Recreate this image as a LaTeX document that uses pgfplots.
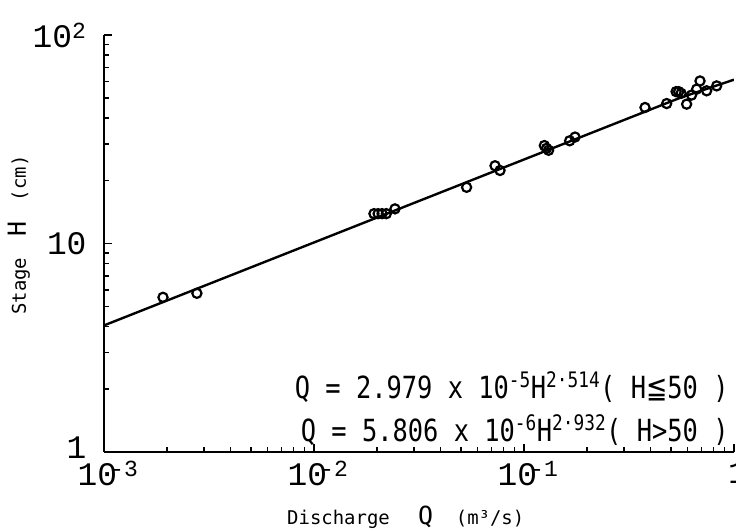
\documentclass[border=0pt]{standalone}
\usepackage{pgfplots}
\pgfplotsset{compat=1.18}
\usepackage{fontspec}
\setmainfont{DejaVu Sans Mono}
\newfontfamily\tickfont{Liberation Mono}
\newfontfamily\symfont{DejaVu Sans}

% measured points (discharge m3/s, stage cm)
\pgfplotstableread{
q       h
0.00191 5.52
0.00277 5.77
0.0193  13.9
0.0202  13.9
0.0211  13.9
0.0221  13.9
0.0243  14.66
0.0533  18.6
0.0728  23.6
0.0769  22.4
0.125   29.5
0.128   28.6
0.131   28.0
0.165   31.1
0.175   32.4
0.377   44.9
0.478   46.9
0.530   53.5
0.545   53.5
0.560   52.5
0.595   46.6
0.628   51.5
0.664   55.0
0.689   60.2
0.741   54.0
0.827   57.0
}\measured

% rating curve end points / break at H=50
\pgfplotstableread{
q      h
0.001  4.046
0.555  50
1      61.07
}\rating

\begin{document}
\begin{tikzpicture}
\begin{axis}[
    xmode=log, ymode=log,
    scale only axis, width=630bp, height=417bp,
    xmin=1e-3, xmax=1, ymin=1, ymax=100,
    axis lines=left,
    axis line style={-, line width=2.4pt},
    tick align=inside,
    tick style={black, line width=1.5pt},
    major tick length=8bp, minor tick length=5bp,
    xtick={0.001,0.01,0.1,1},
    xticklabels={10\textsuperscript{\kern-0.3em-3},10\textsuperscript{\kern-0.3em-2},10\textsuperscript{\kern-0.3em-1},1},
    minor xtick={0.002,0.003,0.004,0.005,0.006,0.007,0.008,0.009,
                 0.02,0.03,0.04,0.05,0.06,0.07,0.08,0.09,
                 0.2,0.3,0.4,0.5,0.6,0.7,0.8,0.9},
    ytick={1,10,100},
    yticklabels={\raisebox{8bp}{1},10,10\textsuperscript{2}},
    minor ytick={2,3,4,5,6,7,8,9,20,30,40,50,60,70,80,90},
    xticklabel style={font=\tickfont\fontsize{33}{33}\selectfont, yshift=-6bp, xshift=4bp},
    yticklabel style={font=\tickfont\fontsize{33}{33}\selectfont, xshift=-14bp},
    xlabel={Discharge\hspace{1.5em}{\fontsize{25}{25}\selectfont Q}\hspace{1.2em}(m³/s)},
    ylabel={Stage\hspace{1.1em}{\fontsize{25}{25}\selectfont H}\hspace{1.1em}(cm)},
    xlabel style={font=\fontsize{19}{19}\selectfont, at={(axis description cs:0.479,-0.156)}, anchor=center},
    ylabel style={font=\fontsize{19}{19}\selectfont, at={(axis description cs:-0.135,0.52)}, anchor=center},
]
\addplot[black, line width=2.4pt] table[x=q, y=h] {\rating};
\addplot[only marks, mark=o, mark size=4.6bp, mark options={line width=2.2pt, black}] table[x=q, y=h] {\measured};

\node[anchor=base east, font=\fontsize{25.5}{25.5}\selectfont] at (rel axis cs:0.997,0.129)
  {\scalebox{1}[1.2]{Q = 2.979 x 10\textsuperscript{-5}H\textsuperscript{2·514}( H{\symfont ≦}50 )}};
\node[anchor=base east, font=\fontsize{25.5}{25.5}\selectfont] at (rel axis cs:0.997,0.026)
  {\scalebox{1}[1.2]{Q = 5.806 x 10\textsuperscript{-6}H\textsuperscript{2·932}( H>50 )}};
\end{axis}
\pgfresetboundingbox
\useasboundingbox ([shift={(-104bp,-79bp)}]current axis.south west) rectangle ([shift={(2bp,35bp)}]current axis.north east);
\end{tikzpicture}
\end{document}
